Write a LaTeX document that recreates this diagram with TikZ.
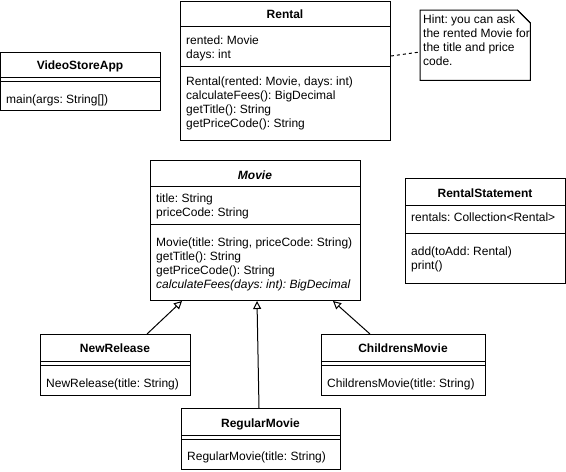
\documentclass[tikz,border=0pt]{standalone}
\usepackage{fontspec}
\setmainfont{Liberation Sans}
\frenchspacing
\usetikzlibrary{arrows.meta,calc}
\begin{document}
\begin{tikzpicture}[x=1pt,y=-1pt,
  every node/.style={font=\fontsize{12}{14}\selectfont},
  classbox/.style={draw, line width=1pt, inner sep=0pt, anchor=north west},
  hdr/.style={anchor=base, inner sep=0pt, font=\fontsize{12}{14}\selectfont\bfseries},
  txt/.style={anchor=base west, inner sep=0pt},
  sep/.style={line width=1pt},
  gen/.style={line width=1pt, -{Triangle[open, length=8pt, width=8pt, line width=1pt]}},
  notelink/.style={line width=1pt, dash pattern=on 3pt off 3pt}
]
\useasboundingbox (0,0) rectangle (566,472);

% VideoStoreApp
\node[classbox, minimum width=160, minimum height=58] (vsa) at (0,52) {};
\node[hdr] at (80,69) {VideoStoreApp};
\draw[sep] (0,77) -- (160,77);
\draw[sep] (0,81) -- (160,81);
\node[txt] at (6,103) {main(args: String[])};

% Rental
\node[classbox, minimum width=210, minimum height=139] (rental) at (180,1) {};
\node[hdr] at (285,18) {Rental};
\draw[sep] (180,26) -- (390,26);
\node[txt] at (186,44) {rented: Movie};
\node[txt] at (186,58) {days: int};
\draw[sep] (180,66) -- (390,66);
\node[txt] at (186,85) {Rental(rented: Movie, days: int)};
\node[txt] at (186,99) {calculateFees(): BigDecimal};
\node[txt] at (186,113) {getTitle(): String};
\node[txt] at (186,127) {getPriceCode(): String};

% Note
\node[inner sep=0pt, anchor=north west, minimum width=110, minimum height=70] (note) at (420,10) {};
\draw[line width=1pt] (note.north west) -- ($(note.north east)+(-13,0)$) -- ($(note.north east)+(0,13)$) -- (note.south east) -- (note.south west) -- cycle;
\draw[line width=1pt] ($(note.north east)+(-13,0)$) -- ($(note.north east)+(0,13)$);
\node[txt] at (423,23) {Hint: you can ask};
\node[txt] at (423,37) {the rented Movie for};
\node[txt] at (423,51) {the title and price};
\node[txt] at (423,65) {code.};
\coordinate (rlink) at ($(rental.north east)+(0,55)$);
\coordinate (nlink) at ($(note.north west)+(0,42)$);
\draw[notelink] (rlink) -- (nlink);

% Movie
\node[classbox, minimum width=210, minimum height=140] (movie) at (150,160) {};
\node[hdr, font=\fontsize{12}{14}\selectfont\bfseries\itshape] at (255,179) {Movie};
\draw[sep] (150,186) -- (360,186);
\node[txt] at (156,202) {title: String};
\node[txt] at (156,216) {priceCode: String};
\draw[sep] (150,224) -- (360,224);
\node[txt] at (156,246) {Movie(title: String, priceCode: String)};
\node[txt] at (156,260) {getTitle(): String};
\node[txt] at (156,274) {getPriceCode(): String};
\node[txt, font=\fontsize{12}{14}\selectfont\itshape] at (156,288) {calculateFees(days: int): BigDecimal};

% RentalStatement
\node[classbox, minimum width=160, minimum height=105] (rs) at (405,178) {};
\node[hdr] at (485,197) {RentalStatement};
\draw[sep] (405,205) -- (565,205);
\node[txt] at (411,221) {rentals: Collection<Rental>};
\draw[sep] (405,233) -- (565,233);
\node[txt] at (411,255) {add(toAdd: Rental)};
\node[txt] at (411,269) {print()};

% NewRelease
\node[classbox, minimum width=150, minimum height=61] (nr) at (40,334) {};
\node[hdr] at (115,352) {NewRelease};
\draw[sep] (40,361) -- (190,361);
\draw[sep] (40,365) -- (190,365);
\node[txt] at (46,387) {NewRelease(title: String)};

% ChildrensMovie
\node[classbox, minimum width=164, minimum height=61] (cm) at (321,334) {};
\node[hdr] at (403,352) {ChildrensMovie};
\draw[sep] (321,361) -- (485,361);
\draw[sep] (321,365) -- (485,365);
\node[txt] at (327,387) {ChildrensMovie(title: String)};

% RegularMovie
\node[classbox, minimum width=159, minimum height=61] (rm) at (181,408) {};
\node[hdr] at (260.5,427) {RegularMovie};
\draw[sep] (181,435) -- (340,435);
\draw[sep] (181,439) -- (340,439);
\node[txt] at (187,460) {RegularMovie(title: String)};

% Generalizations
\coordinate (nrtop) at ($(nr.north west)+(107,0)$);
\coordinate (mv1) at ($(movie.south west)+(32,0)$);
\coordinate (cmtop) at ($(cm.north west)+(49,0)$);
\coordinate (mv3) at ($(movie.south west)+(183,0)$);
\coordinate (rmtop) at ($(rm.north west)+(78,0)$);
\coordinate (mv2) at ($(movie.south west)+(107,0)$);
\draw[gen] (nrtop) -- (mv1);
\draw[gen] (cmtop) -- (mv3);
\draw[gen] (rmtop) -- (mv2);
\end{tikzpicture}
\end{document}
